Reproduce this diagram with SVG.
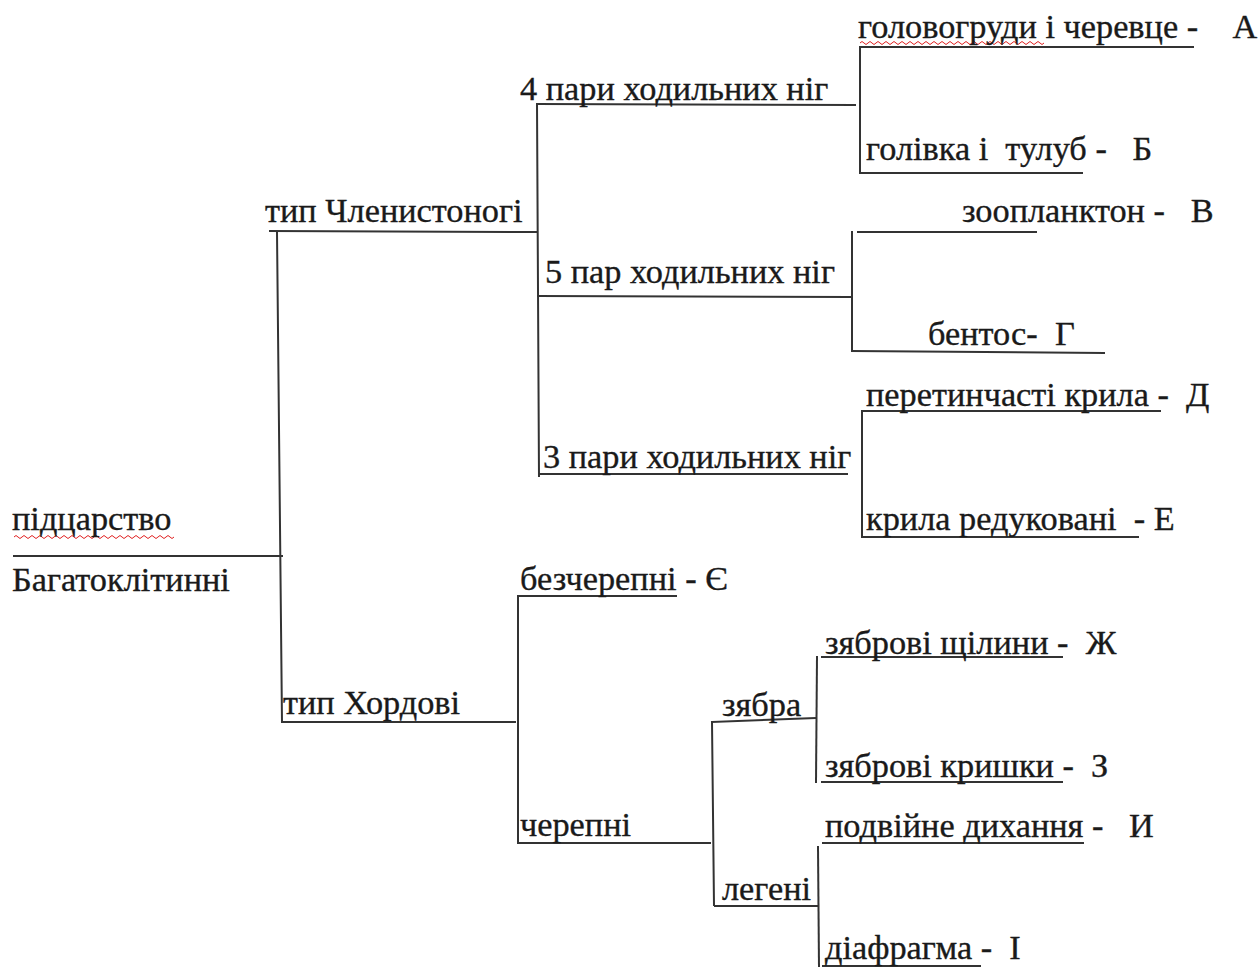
<svg xmlns="http://www.w3.org/2000/svg" width="1259" height="967" viewBox="0 0 1259 967" xml:space="preserve">
<style>
text{font-family:"Liberation Serif","Times New Roman",serif;font-size:34.3px;fill:#1a1a1a;stroke:#1a1a1a;stroke-width:0.35;white-space:pre}
.c line{stroke:#333;stroke-width:2;stroke-linecap:square}
.sq{fill:none;stroke:#e02020;stroke-width:1}
</style>
<rect width="1259" height="967" fill="#fff"/>
<g class="c" id="connectors">
<line x1="14" y1="556" x2="282" y2="556"/>
<line x1="277" y1="232" x2="282" y2="722"/>
<line x1="270" y1="231" x2="536" y2="232"/>
<line x1="283" y1="722" x2="515" y2="722"/>
<line x1="537" y1="104" x2="539" y2="476"/>
<line x1="537" y1="104" x2="855" y2="105"/>
<line x1="860" y1="47" x2="860" y2="173"/>
<line x1="860" y1="47" x2="1193" y2="47"/>
<line x1="860" y1="173" x2="1082" y2="173"/>
<line x1="538" y1="296" x2="850" y2="297"/>
<line x1="852" y1="232" x2="852" y2="351"/>
<line x1="858" y1="232" x2="1036" y2="232"/>
<line x1="852" y1="351" x2="1104" y2="353"/>
<line x1="540" y1="474" x2="847" y2="474"/>
<line x1="862" y1="411" x2="862" y2="537"/>
<line x1="862" y1="411" x2="1160" y2="411"/>
<line x1="862" y1="537" x2="1138" y2="537"/>
<line x1="518" y1="596" x2="518" y2="843"/>
<line x1="520" y1="596" x2="676" y2="596"/>
<line x1="518" y1="843" x2="710" y2="843"/>
<line x1="712" y1="722" x2="714" y2="905"/>
<line x1="712" y1="722" x2="815" y2="718"/>
<line x1="817" y1="657" x2="816" y2="782"/>
<line x1="822" y1="657" x2="1062" y2="657"/>
<line x1="822" y1="782" x2="1062" y2="782"/>
<line x1="715" y1="906" x2="818" y2="906"/>
<line x1="818" y1="847" x2="819" y2="967"/>
<line x1="823" y1="843" x2="1083" y2="843"/>
<line x1="823" y1="966" x2="980" y2="966"/>
</g>
<path class="sq" d="M14 537 q2 -3 4 0 t4 0 t4 0 t4 0 t4 0 t4 0 t4 0 t4 0 t4 0 t4 0 t4 0 t4 0 t4 0 t4 0 t4 0 t4 0 t4 0 t4 0 t4 0 t4 0 t4 0 t4 0 t4 0 t4 0 t4 0 t4 0 t4 0 t4 0 t4 0 t4 0 t4 0 t4 0 t4 0 t4 0 t4 0 t4 0 t4 0 t4 0 t4 0 t4 0"/>
<path class="sq" d="M860 43 q2 -3 4 0 t4 0 t4 0 t4 0 t4 0 t4 0 t4 0 t4 0 t4 0 t4 0 t4 0 t4 0 t4 0 t4 0 t4 0 t4 0 t4 0 t4 0 t4 0 t4 0 t4 0 t4 0 t4 0 t4 0 t4 0 t4 0 t4 0 t4 0 t4 0 t4 0 t4 0 t4 0 t4 0 t4 0 t4 0 t4 0 t4 0 t4 0 t4 0 t4 0 t4 0 t4 0 t4 0 t4 0 t4 0 t4 0"/>
<g id="n-root"><text x="12" y="530">підцарство</text><text x="12" y="591">Багатоклітинні</text></g>
<g id="n-chlen"><text x="265" y="222">тип Членистоногі</text></g>
<g id="n-khord"><text x="283" y="714">тип Хордові</text></g>
<g id="n-4p"><text x="520" y="100">4 пари ходильних ніг</text></g>
<g id="n-5p"><text x="545" y="283">5 пар ходильних ніг</text></g>
<g id="n-3p"><text x="543" y="468">3 пари ходильних ніг</text></g>
<g id="n-a"><text x="858" y="38">головогруди і черевце -    А</text></g>
<g id="n-b"><text x="866" y="160">голівка і  тулуб -   Б</text></g>
<g id="n-v"><text x="962" y="222">зоопланктон -   В</text></g>
<g id="n-g"><text x="928" y="345">бентос-  Г</text></g>
<g id="n-d"><text x="866" y="406">перетинчасті крила -  Д</text></g>
<g id="n-e"><text x="866" y="530">крила редуковані  - Е</text></g>
<g id="n-ye"><text x="520" y="590">безчерепні - Є</text></g>
<g id="n-cher"><text x="520" y="836">черепні</text></g>
<g id="n-zyab"><text x="722" y="716">зябра</text></g>
<g id="n-leg"><text x="722" y="900">легені</text></g>
<g id="n-zh"><text x="825" y="654">зяброві щілини -  Ж</text></g>
<g id="n-z"><text x="825" y="777">зяброві кришки -  З</text></g>
<g id="n-i"><text x="825" y="837">подвійне дихання -   И</text></g>
<g id="n-ii"><text x="825" y="959">діафрагма -  І</text></g>
</svg>
